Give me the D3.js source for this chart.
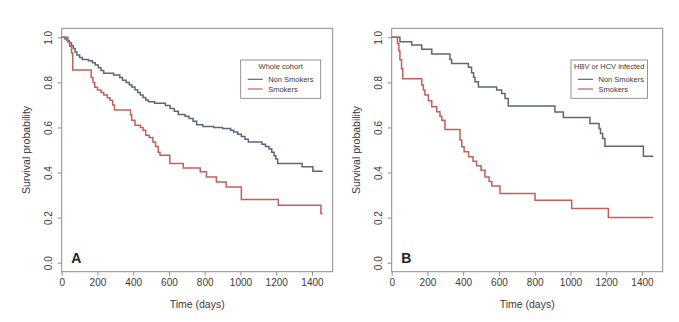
<!DOCTYPE html>
<html>
<head>
<meta charset="utf-8">
<script src="https://cdn.jsdelivr.net/npm/d3@7"></script>
<style>
  html, body { margin: 0; padding: 0; background: #fff; }
  svg { display: block; font-family: "Liberation Sans", Arial, sans-serif; }
</style>
</head>
<body>
<svg id="chart" width="679" height="322"></svg>
<script>
// ---- data ----
const xTicks = [0, 200, 400, 600, 800, 1000, 1200, 1400];
const yTicks = [0, 0.2, 0.4, 0.6, 0.8, 1.0];
const seriesNames = ["Non Smokers", "Smokers"];
const panelLetters = ["A", "B"];
const legendTitles = ["Whole cohort", "HBV or HCV infected"];

const timeA_non = [0,18,30,42,55,65,75,85,100,115,150,172,188,205,220,235,290,325,340,360,378,392,410,425,440,455,470,485,520,580,606,630,652,690,712,735,755,790,850,900,945,962,985,1005,1025,1044,1120,1140,1160,1175,1188,1198,1208,1345,1405,1460];
const survA_non = [1.0,0.993,0.985,0.975,0.963,0.95,0.935,0.922,0.91,0.902,0.896,0.887,0.877,0.865,0.853,0.84,0.833,0.822,0.81,0.8,0.79,0.78,0.767,0.755,0.744,0.733,0.722,0.714,0.707,0.697,0.684,0.672,0.658,0.65,0.64,0.628,0.612,0.604,0.6,0.595,0.588,0.58,0.57,0.56,0.548,0.536,0.526,0.515,0.504,0.49,0.475,0.46,0.44,0.426,0.406,0.406];

const timeA_smk = [0,35,45,55,62,165,175,185,200,220,235,255,270,285,295,385,392,410,440,455,470,490,510,525,540,550,605,680,775,810,865,920,1005,1212,1450,1460];
const survA_smk = [1.0,0.98,0.96,0.93,0.855,0.822,0.8,0.778,0.766,0.755,0.744,0.732,0.721,0.7,0.677,0.655,0.632,0.61,0.6,0.588,0.566,0.555,0.536,0.515,0.49,0.477,0.44,0.42,0.403,0.38,0.358,0.336,0.28,0.255,0.218,0.218];

const timeB_non = [0,46,112,168,224,326,335,429,447,458,466,485,587,615,634,652,913,960,1109,1160,1168,1180,1193,1408,1463];
const survB_non = [1.0,0.98,0.966,0.947,0.926,0.902,0.884,0.867,0.843,0.823,0.803,0.78,0.766,0.751,0.729,0.695,0.669,0.644,0.618,0.595,0.573,0.551,0.517,0.472,0.472];

const timeB_smk = [0,32,40,46,55,62,168,177,186,205,224,252,270,280,298,382,392,405,430,455,475,500,522,545,560,606,802,1007,1212,1463];
const survB_smk = [1.0,0.973,0.94,0.9,0.86,0.816,0.788,0.766,0.744,0.718,0.692,0.67,0.65,0.632,0.591,0.544,0.514,0.492,0.47,0.45,0.43,0.41,0.38,0.36,0.34,0.307,0.277,0.24,0.2,0.2];

// ---- layout ----
const colors = ["#5b6778", "#c2615c"];
const textColor = "#3a3a3a";
const boxColor = "#8c8c8c";
const panels = [
  { left: 61.7, letter: panelLetters[0], title: legendTitles[0],
    series: [[timeA_non, survA_non], [timeA_smk, survA_smk]], legend: { x: 240.7, w: 80 } },
  { left: 391.7, letter: panelLetters[1], title: legendTitles[1],
    series: [[timeB_non, survB_non], [timeB_smk, survB_smk]], legend: { x: 571, w: 76.5 } }
];
const plotW = 271, plotTop = 28.3, plotBottom = 271.7;

const svg = d3.select("#chart");
svg.append("rect").attr("width", 679).attr("height", 322).attr("fill", "#fff");

panels.forEach(p => {
  const g = svg.append("g");
  const x = d3.scaleLinear().domain([0, 1516]).range([p.left, p.left + plotW]);
  const y = d3.scaleLinear().domain([-0.04, 1.04]).range([plotBottom, plotTop]);

  // box
  g.append("rect").attr("x", p.left).attr("y", plotTop)
    .attr("width", plotW).attr("height", plotBottom - plotTop)
    .attr("fill", "none").attr("stroke", boxColor).attr("stroke-width", 1);

  // x axis
  const xa = g.append("g").attr("transform", `translate(0,${plotBottom})`)
    .call(d3.axisBottom(x).tickValues(xTicks).tickSize(4).tickPadding(3).tickFormat(d3.format("d")));
  xa.select(".domain").remove();
  xa.selectAll("line").attr("stroke", boxColor);
  xa.selectAll("text").attr("fill", textColor).style("font-size", "10px")
    .style("font-family", "Liberation Sans, Arial, sans-serif");

  // y axis
  const ya = g.append("g").attr("transform", `translate(${p.left},0)`)
    .call(d3.axisLeft(y).tickValues(yTicks).tickSize(4).tickFormat(d3.format(".1f")));
  ya.select(".domain").remove();
  ya.selectAll("line").attr("stroke", boxColor);
  ya.selectAll("text")
    .attr("x", null).attr("dy", null)
    .attr("text-anchor", "middle")
    .attr("transform", "translate(-9.5,0) rotate(-90)")
    .attr("fill", textColor).style("font-size", "10px")
    .style("font-family", "Liberation Sans, Arial, sans-serif");

  // axis titles
  g.append("text").attr("x", p.left + plotW / 2).attr("y", 307.5)
    .attr("text-anchor", "middle").attr("fill", textColor)
    .style("font-size", "10.5px").text("Time (days)");
  g.append("text").attr("transform", `translate(${p.left - 31.5},${(plotTop + plotBottom) / 2}) rotate(-90)`)
    .attr("text-anchor", "middle").attr("fill", textColor)
    .style("font-size", "10.5px").text("Survival probability");

  // curves
  const line = d3.line().x(d => x(d[0])).y(d => y(d[1])).curve(d3.curveStepAfter);
  p.series.forEach((s, i) => {
    const pts = s[0].map((t, k) => [t, s[1][k]]);
    g.append("path").datum(pts).attr("d", line)
      .attr("fill", "none").attr("stroke", colors[i]).attr("stroke-width", 1.5);
  });

  // panel letter
  g.append("text").attr("x", p.left + 9.5).attr("y", 262.7)
    .attr("fill", "#222").style("font-size", "14px").style("font-weight", "bold").text(p.letter);

  // legend
  const L = p.legend;
  const lg = g.append("g");
  lg.append("rect").attr("x", L.x).attr("y", 60).attr("width", L.w).attr("height", 38.3)
    .attr("fill", "#fff").attr("stroke", "#7a7a7a").attr("stroke-width", 0.8);
  lg.append("text").attr("x", L.x + L.w / 2).attr("y", 69)
    .attr("text-anchor", "middle").attr("fill", textColor)
    .style("font-size", "7.5px").text(p.title);
  seriesNames.forEach((n, i) => {
    const yy = 79.3 + i * 9.7;
    lg.append("line").attr("x1", L.x + 7).attr("x2", L.x + 22)
      .attr("y1", yy).attr("y2", yy).attr("stroke", colors[i]).attr("stroke-width", 1.2);
    lg.append("text").attr("x", L.x + 27.5).attr("y", yy + 2.7)
      .attr("fill", textColor).style("font-size", "7.5px").text(n);
  });
});
</script>
</body>
</html>
